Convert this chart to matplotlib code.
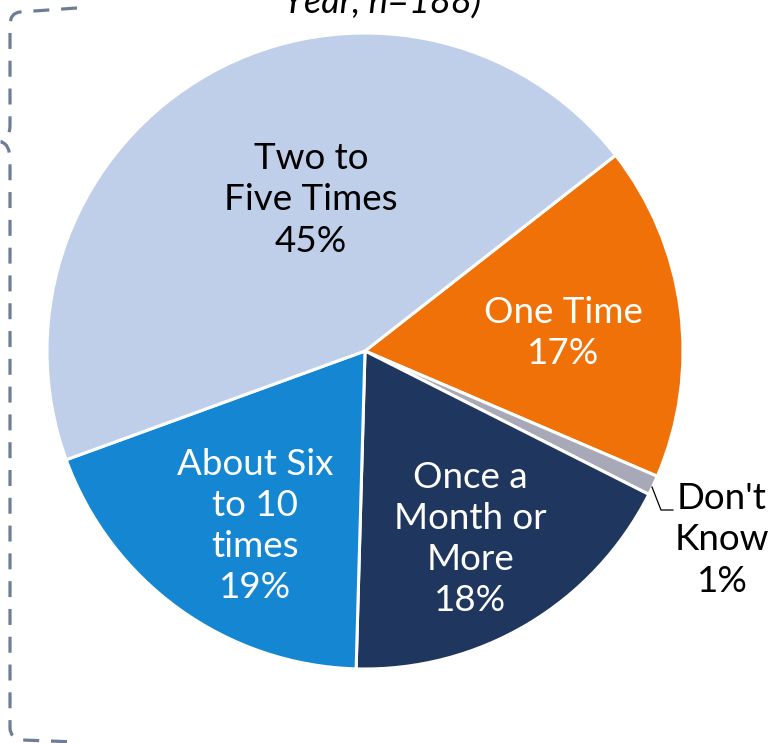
import matplotlib.pyplot as plt
from matplotlib.path import Path
from matplotlib.patches import PathPatch

plt.rcParams['font.family'] = ['Lato', 'DejaVu Sans']

# share of respondents by frequency, clockwise from "One Time"
labels = ['One\u00a0Time', "Don't\nKnow", 'Once a\nMonth or\nMore',
          'About Six\nto 10\ntimes', 'Two to\nFive Times']
shares = [17, 1, 18, 19, 45]
colors = ['#F07108', '#A7A9B8', '#1F365E', '#1586D1', '#BFCFE9']
text_colors = ['white', 'black', 'white', 'white', 'black']

W, H = 770, 743
fig = plt.figure(figsize=(W / 100, H / 100), dpi=100)
ax = fig.add_axes([0, 0, 1, 1])

cx, cy, r = 365, H - 351, 318
wedges, _ = ax.pie(shares, colors=colors, startangle=38, counterclock=False,
                   center=(cx, cy), radius=r, frame=True,
                   wedgeprops=dict(edgecolor='white', linewidth=2.2))
ax.set_xlim(0, W)
ax.set_ylim(0, H)
ax.axis('off')

# label anchor points (pixels from top-left)
label_pos = [(563, 333), (722, 540), (470, 539), (255, 526), (311, 200)]
for lab, val, (x, y), tc in zip(labels, shares, label_pos, text_colors):
    ax.text(x, H - y, f'{lab}\n{val}%', ha='center', va='center',
            fontsize=26.5, color=tc, linespacing=1.3)

# leader line for the small slice
ax.plot([652, 661, 673], [H - 487, H - 510, H - 510], color='black', lw=0.9)

# title line, partly above the top edge
ax.text(382, H - 14, 'Year, n=188)', ha='center', va='baseline',
        fontsize=26, style='italic', color='black', clip_on=False)

# dashed curly bracket on the left
pts = [(77, 8), (20, 12), (10, 13), (10, 25), (10, 125), (10, 140), (1, 142),
       (10, 144), (10, 160), (10, 728), (10, 738), (22, 740), (77, 742)]
codes = [Path.MOVETO, Path.LINETO, Path.CURVE3, Path.CURVE3, Path.LINETO,
         Path.CURVE3, Path.CURVE3, Path.CURVE3, Path.CURVE3, Path.LINETO,
         Path.CURVE3, Path.CURVE3, Path.LINETO]
brace = Path([(x, H - y) for x, y in pts], codes)
ax.add_patch(PathPatch(brace, facecolor='none', edgecolor='#6E7D96',
                       lw=2.3, linestyle=(0, (5, 3.7)), clip_on=False))

fig.savefig('out.png', dpi=100)
